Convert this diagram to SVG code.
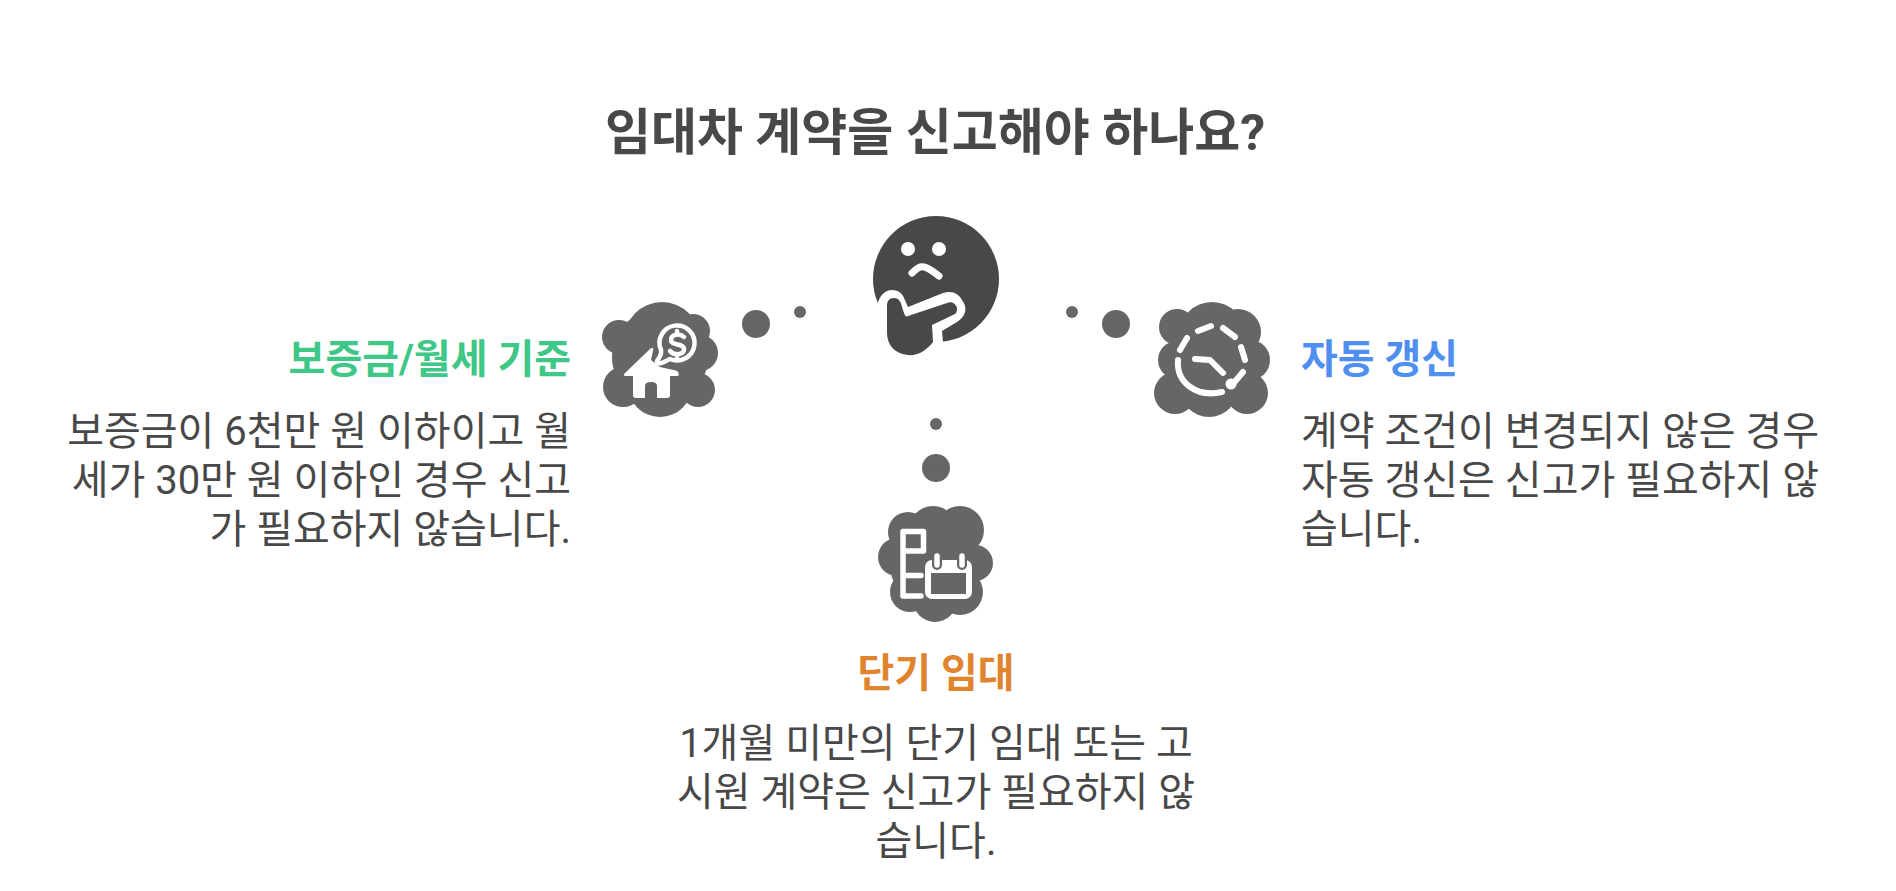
<svg xmlns="http://www.w3.org/2000/svg" width="1896" height="891" viewBox="0 0 1896 891">
<style>
text{font-family:Roboto,"Noto Sans CJK KR",sans-serif}
.t{font-size:50px;font-weight:700;fill:#484848}
.h{font-size:40px;font-weight:700}
.b{font-size:40px;fill:#484848}
.c{fill:#666}
.w{fill:none;stroke:#fff;stroke-linecap:round;stroke-linejoin:round}
.g{fill:none;stroke:#666;stroke-linecap:round;stroke-linejoin:round}
</style>
<rect width="1896" height="891" fill="#fff"/>
<text class="t" x="935" y="150" text-anchor="middle">임대차 계약을 신고해야 하나요?</text>
<g id="connectors" class="c">
<circle cx="756" cy="324" r="14"/><circle cx="800" cy="312" r="6"/>
<circle cx="1116" cy="324" r="14"/><circle cx="1072" cy="312" r="6"/>
<circle cx="936" cy="468" r="14"/><circle cx="936" cy="424" r="6"/>
</g>
<g id="center">
<circle cx="936" cy="279" r="63" fill="#484848"/>
<path d="M878 302C881 294 886 290 892 290C898 290 902 293 904 298L908 307L943 293C952 290 959 294 962 300C968 308 966 316 957 322L942 331L943 342L925 362L878 362Z" fill="#fff"/>
<path d="M887 306C887 301 889 298 894 298C899 298 901 302 902 307L904 313C905 316 906 317 908 316L947 303C952 301 956 304 957 308C957 312 956 314 953 315L932 325L933 342C926 351 917 356 908 355C895 354 887 345 887 333Z" fill="#484848"/>
<circle cx="908" cy="249" r="7" fill="#fff"/><circle cx="939" cy="249" r="7" fill="#fff"/>
<path class="w" stroke-width="7" d="M912 273C917 268 920 266 924 267C929 268 934 272 939 276"/>
</g>
<g id="left">
<g class="c">
<circle cx="660" cy="357" r="48"/><circle cx="662" cy="340" r="38"/><circle cx="660" cy="385" r="32"/><circle cx="619" cy="337" r="17"/><circle cx="623" cy="387" r="20"/><circle cx="698" cy="390" r="17"/><circle cx="700" cy="353" r="18"/><circle cx="693" cy="331" r="17"/>
</g>
<path d="M625 373L650 349Q652 347 654 349L678 372Q680 376 677 376L670 376L670 395Q670 398 667 398L657 398L657 386Q657 382 651 382Q645 382 645 386L645 398L636 398Q633 398 633 395L633 376L626 376Q622 376 625 373Z" fill="#fff"/>
<path d="M661 352L658 345L654 346L651 360L660 367L678 371L690 360Z" class="c"/>
<path class="w" stroke-width="4.500" fill="#666" style="fill:#666" d="M661 350A17.500 17.500 0 1 1 670 359L664 362C660 364 656 364 657 361C659 358 662 355 661 350Z"/>
<path class="w" stroke-width="4.500" d="M684 337C680 333 671 334 671 340C671 346 684 343 684 349C684 355 674 356 670 351M677 331V334M677 354V357"/>
</g>
<g id="right">
<g class="c">
<circle cx="1212" cy="358" r="45"/><circle cx="1212" cy="335" r="33"/><circle cx="1209" cy="388" r="29"/><circle cx="1177" cy="327" r="18"/><circle cx="1238" cy="332" r="23"/><circle cx="1250" cy="360" r="20"/><circle cx="1247" cy="393" r="21"/><circle cx="1175" cy="393" r="21"/><circle cx="1177" cy="360" r="19"/>
</g>
<g class="w" stroke-width="6">
<path d="M1222 392C1196 398 1176 382 1178 360M1180 350L1187 338M1198 331L1211 326M1223 328L1235 337M1241 347L1245 360M1243 372L1232 385"/>
<path d="M1195 359L1210 360L1223 373"/>
</g>
<circle cx="1231" cy="384" r="5.500" fill="#fff"/>
</g>
<g id="bottom">
<g class="c">
<circle cx="936" cy="564" r="46"/><circle cx="908" cy="532" r="20"/><circle cx="960" cy="530" r="24"/><circle cx="933" cy="530" r="24"/><circle cx="897" cy="557" r="19"/><circle cx="975" cy="563" r="18"/><circle cx="910" cy="592" r="20"/><circle cx="960" cy="592" r="23"/><circle cx="935" cy="600" r="22"/>
</g>
<path class="w" stroke-width="5.500" d="M921 596H903V531.500H923.500V551H903M903 575.500H921"/>
<rect x="925" y="560" width="47" height="39" rx="7" fill="#fff"/>
<rect x="931" y="573" width="35" height="21" class="c"/>
<path class="g" stroke-width="10" d="M937 556V565M962 556V565"/>
<path class="w" stroke-width="5.500" d="M937 556V565M962 556V565"/>
</g>
<text class="h" x="571" y="373" text-anchor="end" fill="#3ec786">보증금/월세 기준</text>
<g class="b" text-anchor="end"><text x="571" y="445">보증금이 6천만 원 이하이고 월</text><text x="571" y="494">세가 30만 원 이하인 경우 신고</text><text x="571" y="543">가 필요하지 않습니다.</text></g>
<text class="h" x="1301" y="373" fill="#4f8ff0">자동 갱신</text>
<g class="b"><text x="1301" y="445">계약 조건이 변경되지 않은 경우</text><text x="1301" y="494">자동 갱신은 신고가 필요하지 않</text><text x="1301" y="543">습니다.</text></g>
<text class="h" x="936" y="687" text-anchor="middle" fill="#e0842e">단기 임대</text>
<g class="b" text-anchor="middle"><text x="936" y="757">1개월 미만의 단기 임대 또는 고</text><text x="936" y="806">시원 계약은 신고가 필요하지 않</text><text x="936" y="855">습니다.</text></g>
</svg>
